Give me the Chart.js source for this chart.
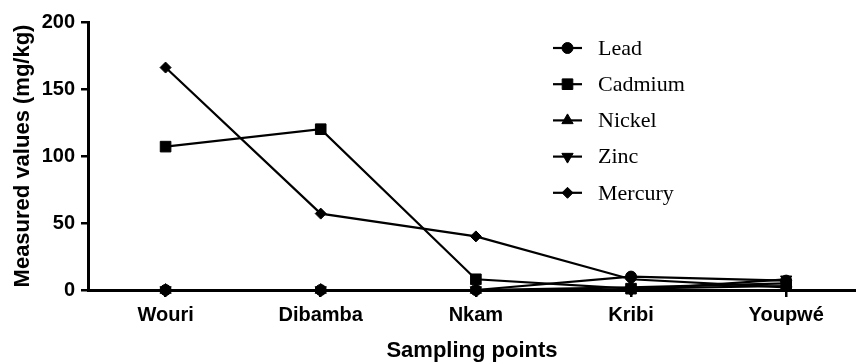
<!DOCTYPE html>
<html>
<head>
<meta charset="utf-8">
<script src="https://cdn.jsdelivr.net/npm/chart.js@4.4.0/dist/chart.umd.min.js"></script>
<style>
html,body{margin:0;padding:0;background:#fff;overflow:hidden;}
#wrap{width:856px;height:364px;position:relative;}
canvas{display:block;}
</style>
</head>
<body>
<div id="wrap"><canvas id="c" width="856" height="364"></canvas></div>
<script>
const categories = ["Wouri", "Dibamba", "Nkam", "Kribi", "Youpwé"];
const lead    = [0, 0, 0, 10, 7];
const cadmium = [107, 120, 8, 1, 3];
const nickel  = [0, 0, 0, 2, 5];
const zinc    = [0, 0, 0, 0, 8];
const mercury = [166, 57, 40, 8, 2];
const yTicks = [0, 50, 100, 150, 200];

const seriesDefs = [
  {label: "Lead", data: lead, style: "circle", radius: 5.5, rotation: 0},
  {label: "Cadmium", data: cadmium, style: "rect", radius: 7.5, rotation: 0},
  {label: "Nickel", data: nickel, style: "triangle", radius: 6.5, rotation: 0},
  {label: "Zinc", data: zinc, style: "triangle", radius: 6.5, rotation: 180},
  {label: "Mercury", data: mercury, style: "rectRot", radius: 5.5, rotation: 0}
];

const datasets = seriesDefs.map(s => ({
  label: s.label,
  data: s.data.map((v, i) => ({x: i, y: v})),
  borderColor: "#000",
  backgroundColor: "#000",
  borderWidth: 2.2,
  pointStyle: s.style,
  pointRadius: s.radius,
  pointRotation: s.rotation,
  pointBorderWidth: 1,
  pointBackgroundColor: "#000",
  pointBorderColor: "#000",
  tension: 0,
  clip: false
}));

const legendPlugin = {
  id: "customLegend",
  afterDraw(chart) {
    const ctx = chart.ctx;
    const x0 = 553, x1 = 582, xm = 567.5, tx = 598;
    const y0 = 48, dy = 36.2;
    ctx.save();
    chart.data.datasets.forEach((ds, i) => {
      const y = y0 + i * dy;
      ctx.strokeStyle = "#000";
      ctx.lineWidth = 2.2;
      ctx.beginPath();
      ctx.moveTo(x0, y);
      ctx.lineTo(x1, y);
      ctx.stroke();
      ctx.fillStyle = "#000";
      ctx.lineWidth = 1;
      if (Chart.helpers && Chart.helpers.drawPoint) {
        Chart.helpers.drawPoint(ctx, {pointStyle: ds.pointStyle, radius: ds.pointRadius, rotation: ds.pointRotation, borderWidth: 1}, xm, y);
      } else {
        ctx.beginPath(); ctx.arc(xm, y, ds.pointRadius, 0, Math.PI * 2); ctx.fill();
      }
      ctx.fillStyle = "#000";
      ctx.font = "22px 'Liberation Serif', 'Times New Roman', serif";
      ctx.textBaseline = "middle";
      ctx.textAlign = "left";
      ctx.fillText(ds.label, tx, y + 1);
    });
    ctx.restore();
  }
};

new Chart(document.getElementById("c"), {
  type: "line",
  data: {datasets},
  options: {
    responsive: false,
    animation: false,
    layout: {autoPadding: false, padding: {top: 22, right: 0, left: 0, bottom: 0}},
    plugins: {legend: {display: false}, tooltip: {enabled: false}},
    scales: {
      x: {
        type: "linear",
        min: -0.5,
        max: 4.45,
        afterBuildTicks(scale) { scale.ticks = categories.map((c, i) => ({value: i})); },
        afterFit(scale) { scale.height = 74; scale.paddingRight = 0; scale.paddingLeft = 0; },
        ticks: {
          color: "#000",
          padding: 6,
          font: {family: "'Liberation Sans', Arial, sans-serif", size: 20, weight: "bold"},
          callback: (v) => categories[v]
        },
        grid: {drawOnChartArea: false, drawTicks: true, tickLength: 7, color: "#000", lineWidth: 2.5},
        border: {display: true, color: "#000", width: 3},
        title: {
          display: true, text: "Sampling points", color: "#000",
          font: {family: "'Liberation Sans', Arial, sans-serif", size: 22, weight: "bold"},
          padding: {top: 0, bottom: 0}
        }
      },
      y: {
        type: "linear",
        min: 0,
        max: 200,
        afterBuildTicks(scale) { scale.ticks = yTicks.map(v => ({value: v})); },
        afterFit(scale) { scale.width = 88; },
        ticks: {
          color: "#000",
          padding: 6,
          font: {family: "'Liberation Sans', Arial, sans-serif", size: 20, weight: "bold"}
        },
        grid: {drawOnChartArea: false, drawTicks: true, tickLength: 7, color: "#000", lineWidth: 2.5},
        border: {display: true, color: "#000", width: 3},
        title: {
          display: true, text: "Measured values (mg/kg)", color: "#000",
          font: {family: "'Liberation Sans', Arial, sans-serif", size: 22, weight: "bold"},
          padding: {top: 10, bottom: 0}
        }
      }
    }
  },
  plugins: [legendPlugin]
});
</script>
</body>
</html>
